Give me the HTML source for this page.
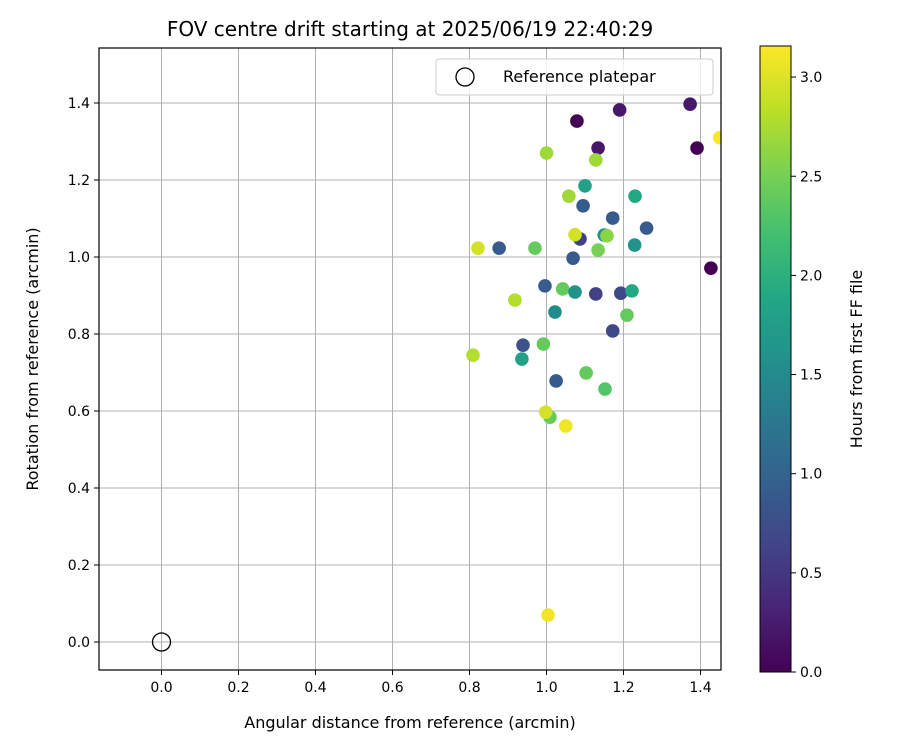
<!DOCTYPE html>
<html><head><meta charset="utf-8"><style>
html,body{margin:0;padding:0;background:#fff;}
svg text{font-family:"DejaVu Sans","Liberation Sans",sans-serif;fill:#000;}
</style></head><body>
<svg id="chart" width="900" height="750" xmlns="http://www.w3.org/2000/svg">
<defs><linearGradient id="vir" x1="0" y1="1" x2="0" y2="0">
<stop offset="0" stop-color="#440154"/><stop offset="0.1" stop-color="#482475"/><stop offset="0.2" stop-color="#414487"/><stop offset="0.3" stop-color="#355f8d"/><stop offset="0.4" stop-color="#2a788e"/><stop offset="0.5" stop-color="#21918c"/><stop offset="0.6" stop-color="#22a884"/><stop offset="0.7" stop-color="#44bf70"/><stop offset="0.8" stop-color="#7ad151"/><stop offset="0.9" stop-color="#bddf26"/><stop offset="1" stop-color="#fde725"/>
</linearGradient><clipPath id="clip"><rect x="99" y="48" width="622" height="622"/></clipPath></defs>
<g id="grid"></g>
<g id="pts" clip-path="url(#clip)"></g>
<rect x="99" y="48" width="622" height="622" fill="none" stroke="#000" stroke-width="1.2"/>
<g id="ticks"></g>
<text x="410" y="36" font-size="20" text-anchor="middle">FOV centre drift starting at 2025/06/19 22:40:29</text>
<text x="410" y="728" font-size="16" text-anchor="middle">Angular distance from reference (arcmin)</text>
<text transform="translate(38,359) rotate(-90)" font-size="16" text-anchor="middle">Rotation from reference (arcmin)</text>
<g>
<rect x="436" y="59" width="277" height="36" rx="3" fill="#fff" fill-opacity="0.8" stroke="#ccc"/>
<circle cx="465" cy="77" r="9" fill="none" stroke="#000" stroke-width="1.3"/>
<text x="503" y="82" font-size="16">Reference platepar</text>
</g>
<rect x="760" y="46" width="31" height="626" fill="url(#vir)" stroke="#000" stroke-width="1"/>
<g id="cbticks"></g>
<text transform="translate(862,359) rotate(-90)" font-size="16" text-anchor="middle">Hours from first FF file</text>
</svg>
<script>
const xs=[1.373,1.079,1.19,1.134,1.391,1.45,1.0,1.128,1.1,1.058,1.23,1.095,1.172,1.26,1.087,1.074,1.15,1.157,0.822,0.877,0.97,1.134,1.229,1.069,1.427,0.996,1.042,1.074,1.128,1.193,1.222,0.918,1.022,1.209,1.172,0.939,0.992,0.809,0.936,1.103,1.025,1.152,1.009,0.998,1.05,1.004];
const ys=[1.397,1.353,1.382,1.283,1.283,1.31,1.27,1.252,1.185,1.158,1.158,1.133,1.101,1.075,1.047,1.058,1.057,1.055,1.023,1.023,1.023,1.018,1.031,0.997,0.971,0.925,0.917,0.909,0.904,0.906,0.912,0.888,0.857,0.849,0.808,0.771,0.774,0.745,0.735,0.699,0.678,0.657,0.584,0.597,0.561,0.07];
const hours=[0.2,0.0,0.2,0.2,0.0,3.15,2.7,2.7,1.8,2.7,1.9,0.9,0.9,0.9,0.6,2.95,1.6,2.6,2.95,0.9,2.4,2.5,1.6,0.9,0.0,0.9,2.4,1.6,0.6,0.7,1.9,2.8,1.5,2.4,0.7,0.8,2.4,2.8,1.8,2.4,0.9,2.3,2.4,2.95,3.1,3.1];
const xTicks=[0,0.2,0.4,0.6,0.8,1.0,1.2,1.4];
const yTicks=[0,0.2,0.4,0.6,0.8,1.0,1.2,1.4];
const cTicks=[0,0.5,1.0,1.5,2.0,2.5,3.0];
const NS="http://www.w3.org/2000/svg";
const X=v=>161.5+v*385, Y=v=>642-v*385, C=v=>672-v*198.3, VMAX=3.157;
const vir=[[68,1,84],[72,36,117],[65,68,135],[53,95,141],[42,120,142],[33,145,140],[34,168,132],[68,191,112],[122,209,81],[189,223,38],[253,231,37]];
function col(v){let t=Math.max(0,Math.min(1,v/VMAX))*10,i=Math.min(9,Math.floor(t)),f=t-i;const a=vir[i],b=vir[i+1];return`rgb(${a.map((c,k)=>Math.round(c+(b[k]-c)*f)).join(',')})`;}
function mk(tag,at,parent){const e=document.createElementNS(NS,tag);for(const k in at)e.setAttribute(k,at[k]);parent.appendChild(e);return e;}
const grid=document.getElementById('grid'),ticks=document.getElementById('ticks'),pts=document.getElementById('pts'),cb=document.getElementById('cbticks');
xTicks.forEach(v=>{
 const l=mk('line',{x1:X(v),x2:X(v),y1:48,y2:670,stroke:'#b0b0b0','stroke-width':1},grid);
 
 
 mk('line',{x1:X(v),x2:X(v),y1:670,y2:675,stroke:'#000'},ticks);
 const t=mk('text',{x:X(v),y:692,'font-size':14,'text-anchor':'middle'},ticks);t.textContent=v.toFixed(1);
 
 
});
yTicks.forEach(v=>{
 const l=mk('line',{x1:99,x2:721,y1:Y(v),y2:Y(v),stroke:'#b0b0b0','stroke-width':1},grid);
 
 
 mk('line',{x1:94,x2:99,y1:Y(v),y2:Y(v),stroke:'#000'},ticks);
 const t=mk('text',{x:90,y:Y(v)+5,'font-size':14,'text-anchor':'end'},ticks);t.textContent=v.toFixed(1);
 
 
});
xs.forEach((x,i)=>{
 const c=mk('circle',{cx:X(x),cy:Y(ys[i]),r:6.8,fill:col(hours[i])},pts);
 
 
});
const ref=mk('circle',{cx:X(0),cy:Y(0),r:9,fill:'none',stroke:'#000','stroke-width':1.3},pts);


cTicks.forEach(v=>{
 mk('line',{x1:791,x2:796,y1:C(v),y2:C(v),stroke:'#000'},cb);
 const t=mk('text',{x:800,y:C(v)+5,'font-size':14},cb);t.textContent=v.toFixed(1);
 
 
});
</script>
</body></html>
